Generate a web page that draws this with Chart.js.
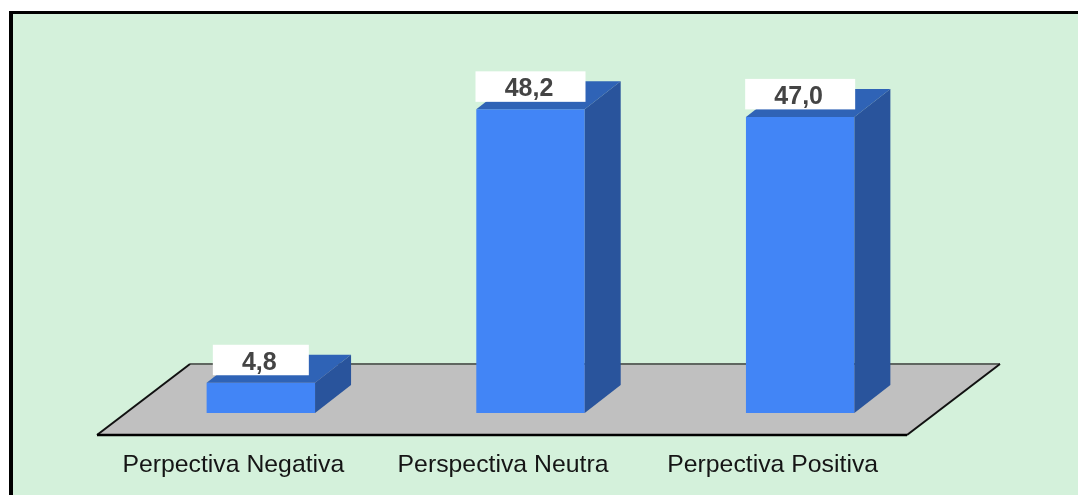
<!DOCTYPE html>
<html>
<head>
<meta charset="utf-8">
<script src="https://cdn.jsdelivr.net/npm/chart.js@4"></script>
<style>
html,body{margin:0;padding:0;background:#fff;overflow:hidden}
canvas{display:block}
</style>
</head>
<body>
<div style="width:1078px;height:495px"><canvas id="c"></canvas></div>
<script>
const categories = ["Perpectiva Negativa", "Perspectiva Neutra", "Perpectiva Positiva"];
const values = [4.8, 48.2, 47.0];
const valueLabels = ["4,8", "48,2", "47,0"];

const DEPTH_X = 36, DEPTH_Y = 28;
const FRONT = "#4285f6", TOP = "#2f63b6", SIDE = "#29549c";

function poly(ctx, pts, fill) {
  ctx.beginPath();
  pts.forEach((p, i) => i ? ctx.lineTo(p[0], p[1]) : ctx.moveTo(p[0], p[1]));
  ctx.closePath();
  ctx.fillStyle = fill;
  ctx.fill();
}
function seg(ctx, a, b, color, w) {
  ctx.beginPath();
  ctx.moveTo(a[0], a[1]);
  ctx.lineTo(b[0], b[1]);
  ctx.strokeStyle = color;
  ctx.lineWidth = w;
  ctx.stroke();
}

const scene = {
  id: "scene",
  beforeDraw(chart) {
    const ctx = chart.ctx;
    ctx.save();
    ctx.fillStyle = "#fff";
    ctx.fillRect(0, 0, chart.width, chart.height);
    ctx.fillStyle = "#000";
    ctx.fillRect(9, 11, chart.width - 9, chart.height - 11);
    ctx.fillStyle = "#d4f1db";
    ctx.fillRect(13, 14, chart.width - 13, chart.height - 14);
    ctx.restore();
  },
  beforeDatasetsDraw(chart) {
    const ctx = chart.ctx, a = chart.chartArea;
    const fl = [a.left - 29, a.bottom + 22], fr = [a.right - 28, a.bottom + 22];
    const br = [a.right + 65, a.bottom - 49], bl = [a.left + 64, a.bottom - 49];
    ctx.save();
    poly(ctx, [fl, fr, br, bl], "#c0c0c0");
    seg(ctx, bl, br, "#5f6660", 2);
    seg(ctx, fl, bl, "#111", 2);
    seg(ctx, fr, br, "#111", 2);
    seg(ctx, fl, fr, "#000", 2.5);
    ctx.restore();
  },
  afterDatasetsDraw(chart) {
    const ctx = chart.ctx;
    ctx.save();
    chart.getDatasetMeta(0).data.forEach((bar, i) => {
      const half = bar.width / 2;
      const l = bar.x - half, r = bar.x + half, t = bar.y, b = bar.base;
      poly(ctx, [[l, t], [r, t], [r + DEPTH_X, t - DEPTH_Y], [l + DEPTH_X, t - DEPTH_Y]], TOP);
      poly(ctx, [[r, t], [r + DEPTH_X, t - DEPTH_Y], [r + DEPTH_X, b - DEPTH_Y], [r, b]], SIDE);
      ctx.font = "bold 25px 'Liberation Sans', Arial, sans-serif";
      ctx.textAlign = "center";
      ctx.textBaseline = "middle";
      const boxW = valueLabels[i].length > 3 ? 110 : 96;
      ctx.fillStyle = "#fff";
      ctx.fillRect(bar.x - boxW / 2, t - 38, boxW, 30.5);
      ctx.fillStyle = "#444";
      ctx.fillText(valueLabels[i], bar.x - 1.5, t - 20);
    });
    ctx.restore();
  }
};

new Chart(document.getElementById("c"), {
  type: "bar",
  data: {
    labels: categories,
    datasets: [{
      data: values,
      backgroundColor: FRONT,
      borderWidth: 0,
      barPercentage: 0.402,
      categoryPercentage: 1
    }]
  },
  options: {
    responsive: true,
    maintainAspectRatio: false,
    animation: false,
    layout: { padding: { left: 126, right: 143, top: 98, bottom: 0 } },
    plugins: { legend: { display: false }, tooltip: { enabled: false } },
    scales: {
      x: {
        afterFit(s) { s.height = 82; },
        grid: { display: false, drawTicks: false },
        border: { display: false },
        ticks: {
          color: "#151515",
          font: { family: "'Liberation Sans', Arial, sans-serif", size: 24.8 },
          padding: 37,
          labelOffset: -27.5,
          maxRotation: 0,
          autoSkip: false
        }
      },
      y: { display: false, min: 0, max: 50 }
    }
  },
  plugins: [scene]
});
</script>
</body>
</html>
